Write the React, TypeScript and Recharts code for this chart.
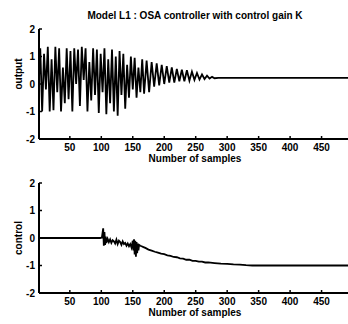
import { Line, LineChart, XAxis, YAxis } from "recharts";

const FONT = '"Liberation Sans", Arial, sans-serif';

const sampleTicks = [50, 100, 150, 200, 250, 300, 350, 400, 450];
const levelTicks = [-2, -1, 0, 1, 2];

// output: oscillation, one entry per peak / trough
const outputSamples = [
  1, 3, 6, 9, 12, 15, 18, 21, 24, 27, 30, 33, 36, 39, 42, 45, 48, 51, 54, 57, 60, 63, 66, 69, 72, 75, 78,
  81, 84, 87, 90, 93, 96, 99, 102, 105, 108, 111, 114, 117, 120, 123, 126, 129, 132, 135, 138, 141, 144,
  147, 150, 153, 156, 159, 162, 165, 168, 172, 176, 180, 184, 188, 192, 196, 200, 204, 208, 212, 216, 220,
  224, 228, 232, 236, 240, 244, 248, 252, 256, 260, 264, 268, 272, 276, 280, 286, 492,
];
const outputValues = [
  0.2, 1.3, -1.0, 1.1, -0.2, 1.35, -1.0, 0.9, -0.95, 1.35, -0.3, 1.3, -1.0, 0.6, -0.7, 1.3, -0.55, 1.2,
  -1.0, 1.3, 0.0, 1.25, -0.8, 1.35, 0.15, 1.3, -1.0, 0.8, -0.6, 1.3, -0.4, 1.25, -1.05, 1.1, -0.3, 1.3,
  -1.1, 0.9, -0.7, 1.25, -1.0, 1.0, -1.15, 1.2, -0.4, 1.1, -0.9, 0.7, -0.5, 1.0, -0.2, 0.95, -0.5, 0.6,
  -0.3, 0.9, -0.35, 0.85, -0.3, 0.8, -0.1, 0.75, -0.05, 0.7, 0.0, 0.65, 0.05, 0.6, 0.05, 0.55, 0.1, 0.52,
  0.1, 0.5, 0.12, 0.45, 0.15, 0.4, 0.16, 0.35, 0.18, 0.3, 0.2, 0.26, 0.21, 0.22, 0.22,
];

const controlSamples = [
  1, 98, 101, 103, 104, 105, 106, 107, 108, 110, 112, 114, 116, 118, 120, 122, 124, 126, 128, 130, 132,
  134, 136, 138, 140, 142, 144, 146, 148, 150, 151, 152, 153, 154, 155, 156, 157, 158, 159, 160, 162, 164,
  167, 170, 175, 180, 185, 190, 195, 200, 205, 210, 215, 220, 225, 230, 235, 240, 245, 250, 255, 260, 265,
  270, 280, 290, 300, 310, 320, 330, 340, 360, 400, 450, 492,
];
const controlValues = [
  0, 0, 0.02, 0.35, -0.28, 0.22, -0.25, 0.05, -0.18, -0.03, -0.15, -0.05, -0.18, -0.08, -0.12, -0.2, -0.06,
  -0.22, -0.1, -0.15, -0.25, -0.12, -0.22, -0.18, -0.28, -0.2, -0.3, -0.22, -0.35, -0.1, -0.45, -0.05, -0.6,
  -0.1, -0.68, -0.15, -0.55, -0.2, -0.45, -0.25, -0.28, -0.3, -0.33, -0.36, -0.42, -0.46, -0.5, -0.53,
  -0.57, -0.59, -0.63, -0.65, -0.69, -0.7, -0.74, -0.75, -0.79, -0.79, -0.83, -0.83, -0.86, -0.86, -0.89,
  -0.89, -0.91, -0.93, -0.94, -0.96, -0.97, -0.99, -1.0, -1.0, -1.0, -1.0, -1.0,
];

const outputRows = outputSamples.map((s, i) => ({ s, v: outputValues[i] }));
const controlRows = controlSamples.map((s, i) => ({ s, v: controlValues[i] }));

const axisStroke = { stroke: "#000", strokeWidth: 2 };
const tickStyle = { fill: "#000", fontSize: 10, fontWeight: 700, fontFamily: FONT };
const blank = () => "";

function Panel({
  top,
  rows,
  yLabel,
  labelY,
}: {
  top: number;
  rows: { s: number; v: number }[];
  yLabel: string;
  labelY: number;
}) {
  return (
    <div style={{ position: "absolute", left: 0, top, width: 348, height: 170 }}>
      <LineChart width={348} height={170} data={rows} margin={{ top: 29, right: 0, bottom: 0, left: 0 }}>
        <XAxis
          xAxisId="b"
          dataKey="s"
          type="number"
          domain={[1, 492]}
          allowDataOverflow
          ticks={sampleTicks}
          height={31}
          tickSize={-3}
          tickMargin={8}
          axisLine={axisStroke}
          tickLine={{ stroke: "#000", strokeWidth: 1.5 }}
          tick={tickStyle}
        />
        <XAxis
          xAxisId="t"
          orientation="top"
          dataKey="s"
          type="number"
          domain={[1, 492]}
          allowDataOverflow
          ticks={sampleTicks}
          height={0}
          tickSize={-3}
          axisLine={axisStroke}
          tickLine={{ stroke: "#000", strokeWidth: 1.5 }}
          tickFormatter={blank}
        />
        <YAxis
          yAxisId="l"
          type="number"
          domain={[-2, 2]}
          ticks={levelTicks}
          width={39}
          tickSize={-3}
          tickMargin={7}
          axisLine={axisStroke}
          tickLine={{ stroke: "#000", strokeWidth: 1.5 }}
          tick={tickStyle}
        />
        <YAxis
          yAxisId="r"
          orientation="right"
          type="number"
          domain={[-2, 2]}
          ticks={levelTicks}
          width={0}
          tickSize={-3}
          axisLine={axisStroke}
          tickLine={{ stroke: "#000", strokeWidth: 1.5 }}
          tickFormatter={blank}
        />
        <Line
          xAxisId="b"
          yAxisId="l"
          dataKey="v"
          stroke="#000"
          strokeWidth={1.8}
          dot={false}
          isAnimationActive={false}
        />
      </LineChart>
      <div
        style={{
          position: "absolute",
          left: 18,
          top: labelY,
          transform: "translate(-50%, -50%) rotate(-90deg)",
          fontFamily: FONT,
          fontSize: 10,
          fontWeight: 700,
          whiteSpace: "nowrap",
        }}
      >
        {yLabel}
      </div>
      <div
        style={{
          position: "absolute",
          left: 195,
          top: 158,
          transform: "translate(-50%, -50%)",
          fontFamily: FONT,
          fontSize: 10,
          fontWeight: 700,
          whiteSpace: "nowrap",
        }}
      >
        Number of samples
      </div>
    </div>
  );
}

export default function App() {
  return (
    <div
      style={{
        position: "absolute",
        left: 0,
        top: 0,
        width: 348,
        height: 324,
        background: "#fff",
        overflow: "hidden",
      }}
    >
      <div
        style={{
          position: "absolute",
          left: 195,
          top: 15,
          transform: "translate(-50%, -50%)",
          fontFamily: FONT,
          fontSize: 10,
          fontWeight: 600,
          whiteSpace: "nowrap",
        }}
      >
        Model L1 : OSA controller with control gain K
      </div>
      <Panel top={0} rows={outputRows} yLabel="output" labelY={74} />
      <Panel top={154} rows={controlRows} yLabel="control" labelY={84} />
    </div>
  );
}
